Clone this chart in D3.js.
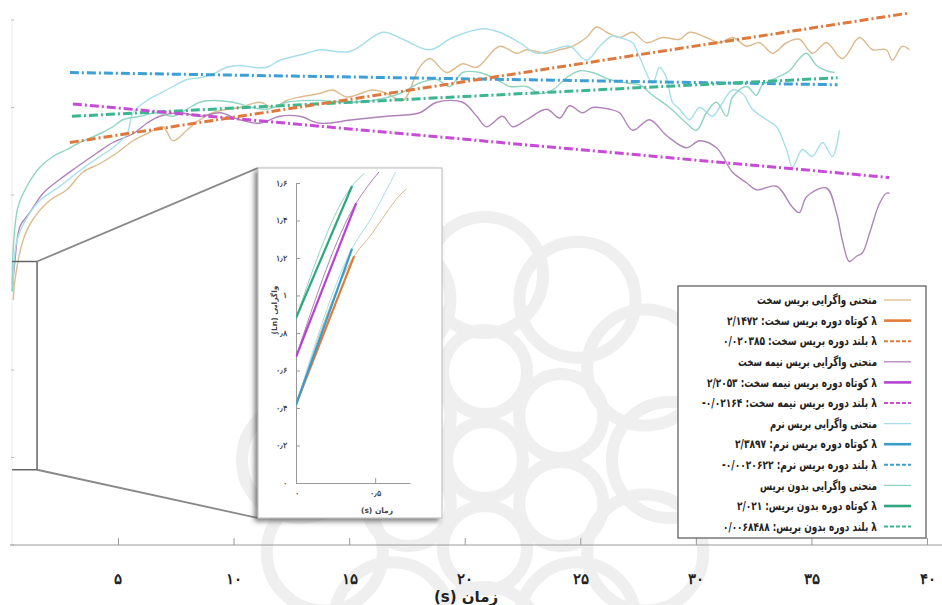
<!DOCTYPE html>
<html lang="fa">
<meta charset="utf-8">
<head>
  <title>divergence</title>
  <style>
  body { margin: 0; background: #fff; }
  svg { display: block; font-family: "DejaVu Sans", sans-serif; }
  .curve { fill: none; stroke-width: 1.4px; }
  .long { fill: none; stroke-width: 3px; stroke-dasharray: 9,3,2,3; }
  .axis-main path, .axis-main line { stroke: #9a9a9a; }
  .axis-main text { font-size: 15px; font-weight: bold; fill: #222; }
  .inset-axis path, .inset-axis line { stroke: #999; }
  .inset-axis text { font-size: 7.5px; font-weight: bold; fill: #444; }
  .legend text { font-size: 12px; font-weight: bold; fill: #222; }
  .mark { fill: none; stroke: #efefef; stroke-width: 12px; }
  </style>
</head>
<body>
<svg id="chart" width="942" height="605"></svg>
<script src="https://cdn.jsdelivr.net/npm/d3@7"></script>
<script>

// ---- data (time s, divergence Ln) ----
var hardCurve = [[0.47,1.4],[0.54,1.51],[0.89,1.74],[1.32,1.86],[2.06,1.97],[2.79,2.03],[3.48,2.13],[4.22,2.18],[4.95,2.24],[5.65,2.31],[6.25,2.35],[6.94,2.39],[7.38,2.31],[7.98,2.37],[8.54,2.43],[9.1,2.47],[9.71,2.49],[10.27,2.5],[11.14,2.53],[11.7,2.5],[12.3,2.54],[12.87,2.56],[13.73,2.58],[14.29,2.6],[14.9,2.56],[16.02,2.6],[16.63,2.58],[17.32,2.54],[18.05,2.73],[18.49,2.78],[19.22,2.7],[19.91,2.75],[20.52,2.73],[21.51,2.85],[22.25,2.81],[22.68,2.83],[23.54,2.81],[24.11,2.83],[24.67,2.85],[25.27,2.9],[25.71,2.96],[26.14,2.93],[26.7,2.9],[27.26,2.93],[27.87,2.87],[28.56,2.9],[29.3,2.89],[29.73,2.93],[30.46,2.9],[31.02,2.87],[31.59,2.9],[32.19,2.85],[32.75,2.87],[33.32,2.81],[33.92,2.87],[34.48,2.89],[35.04,2.81],[35.65,2.87],[36.34,2.78],[37.08,2.9],[37.64,2.83],[38.24,2.83],[38.5,2.77],[38.93,2.85],[39.24,2.83]];

var semiCurve = [[0.43,1.45],[0.54,1.62],[0.76,1.82],[1.19,1.9],[1.76,2.01],[2.49,2.09],[3.22,2.16],[4.09,2.24],[4.78,2.3],[5.65,2.35],[6.25,2.41],[6.81,2.45],[7.68,2.47],[8.54,2.45],[9.41,2.47],[10.27,2.43],[11.14,2.41],[12.0,2.45],[12.87,2.45],[13.73,2.41],[15.16,2.43],[16.63,2.45],[18.05,2.47],[18.79,2.53],[19.91,2.53],[20.52,2.45],[20.95,2.39],[21.64,2.45],[22.07,2.39],[22.68,2.43],[23.54,2.49],[24.11,2.44],[24.54,2.51],[25.1,2.47],[25.53,2.5],[26.27,2.49],[26.7,2.47],[27.26,2.37],[28.0,2.43],[28.73,2.34],[29.6,2.27],[30.16,2.31],[30.89,2.27],[31.59,2.13],[32.19,2.07],[32.62,2.03],[33.49,2.05],[34.18,1.93],[34.48,1.9],[34.79,1.99],[35.65,2.04],[36.08,1.9],[36.34,1.74],[36.64,1.62],[36.95,1.65],[37.21,1.67],[37.51,1.78],[37.94,1.95],[38.24,2.01],[38.37,2.01]];

var softCurve = [[0.45,1.45],[0.63,1.74],[1.06,1.87],[1.63,1.97],[2.49,2.05],[3.35,2.14],[4.22,2.22],[4.78,2.27],[5.39,2.35],[5.65,2.47],[6.25,2.54],[6.81,2.58],[7.38,2.62],[7.98,2.66],[8.54,2.67],[9.1,2.69],[9.71,2.73],[10.27,2.74],[10.83,2.73],[11.44,2.73],[12.0,2.77],[12.56,2.79],[13.17,2.81],[13.73,2.83],[15.03,2.82],[16.46,2.93],[17.32,2.89],[18.49,2.83],[19.48,2.9],[20.78,2.95],[21.51,2.93],[22.38,2.87],[23.11,2.81],[23.8,2.83],[24.54,2.85],[25.27,2.77],[25.84,2.85],[26.4,2.91],[26.7,2.9],[27.26,2.87],[27.56,2.79],[28.13,2.64],[28.43,2.73],[28.73,2.67],[28.99,2.53],[29.3,2.49],[29.73,2.43],[30.16,2.5],[30.72,2.45],[31.02,2.5],[31.59,2.6],[32.02,2.58],[32.45,2.49],[33.06,2.43],[33.49,2.39],[33.92,2.26],[34.18,2.16],[34.61,2.26],[35.04,2.22],[35.48,2.3],[35.91,2.22],[36.21,2.37]];

var noneCurve = [[0.42,1.45],[0.46,1.67],[0.67,1.93],[1.06,2.05],[1.63,2.16],[2.19,2.22],[2.79,2.26],[3.35,2.3],[4.22,2.35],[4.78,2.39],[5.21,2.43],[5.95,2.45],[6.68,2.47],[7.38,2.45],[7.98,2.49],[8.54,2.53],[9.1,2.54],[9.97,2.53],[10.83,2.5],[11.44,2.49],[12.3,2.53],[13.17,2.54],[13.73,2.54],[14.9,2.53],[16.02,2.54],[17.19,2.58],[18.05,2.64],[18.79,2.66],[19.35,2.62],[19.91,2.7],[20.65,2.7],[21.38,2.66],[21.95,2.62],[22.68,2.62],[23.24,2.58],[23.8,2.6],[24.41,2.67],[24.97,2.71],[25.53,2.7],[26.27,2.66],[27.0,2.64],[27.56,2.63],[28.13,2.57],[28.86,2.5],[29.6,2.41],[30.03,2.37],[30.46,2.47],[30.89,2.53],[31.33,2.45],[31.59,2.56],[32.19,2.62],[32.62,2.57],[32.88,2.63],[33.49,2.67],[34.05,2.71],[34.48,2.78],[34.79,2.81],[35.22,2.74],[35.65,2.71],[36.0,2.7]];

// long-period lambda fits (start, end)
var hardLong = [[2.92,2.30],[39.24,3.04]];
var semiLong = [[3.05,2.52],[38.37,2.10]];
var softLong = [[2.92,2.70],[36.13,2.63]];
var noneLong = [[3.01,2.45],[36.13,2.67]];

// zoomed region of the main plot
var zoomBox = {t0: 0.42, t1: 1.5, v0: 0.43, v1: 1.62};

// inset: short-period lambda fits and the start of each curve
var hardShort = [[0,0.42],[0.367,1.21]];
var semiShort = [[0,0.672],[0.38,1.493]];
var softShort = [[0,0.416],[0.354,1.25]];
var noneShort = [[0,0.88],[0.354,1.584]];

var hardStart = [[0,0.42],[0.367,1.21],[0.48,1.33],[0.57,1.44],[0.65,1.53],[0.70,1.57]];
var semiStart = [[0,0.672],[0.38,1.493],[0.45,1.58],[0.525,1.66]];
var softStart = [[0,0.416],[0.354,1.25],[0.48,1.42],[0.57,1.56],[0.63,1.66]];
var noneStart = [[0,0.88],[0.354,1.584],[0.43,1.65]];

var xTicks = [5, 10, 15, 20, 25, 30, 35, 40];
var yTicks = [0, 0.5, 1, 1.5, 2, 2.5, 3];
var insetYTicks = [0, 0.2, 0.4, 0.6, 0.8, 1, 1.2, 1.4, 1.6];
var insetXTicks = [0, 0.5];

var legendLabels = [
  "منحنی واگرایی بریس سخت",
  "λ کوتاه دوره بریس سخت: ۲/۱۴۷۲",
  "λ بلند دوره بریس سخت: ۰/۰۲۰۳۸۵",
  "منحنی واگرایی بریس نیمه سخت",
  "λ کوتاه دوره بریس نیمه سخت: ۲/۲۰۵۳",
  "λ بلند دوره بریس نیمه سخت: ۰/۰۲۱۶۴-",
  "منحنی واگرایی بریس نرم",
  "λ کوتاه دوره بریس نرم: ۲/۳۸۹۷",
  "λ بلند دوره بریس نرم: ۰/۰۰۲۰۶۲۲-",
  "منحنی واگرایی بدون بریس",
  "λ کوتاه دوره بدون بریس: ۲/۰۲۱",
  "λ بلند دوره بدون بریس: ۰/۰۰۶۸۴۸۸"
];
// text widths measured on the picture (px)
var legendWidths = [120, 150, 154, 139, 170, 175, 107, 142, 155, 117, 140, 154];

// ---- styles ----
var colors = {
  hard: {thin: "#dcbb8e", short: "#e07b39", long: "#dc7a3e"},
  semi: {thin: "#b083b8", short: "#b545cf", long: "#c64cd6"},
  soft: {thin: "#a6dfeb", short: "#3b9ccc", long: "#3e9fd4"},
  none: {thin: "#8fd5c2", short: "#2fa67c", long: "#3db58e"}
};
var legendKinds = ["thin", "short", "long"];
var legendGroups = ["hard", "semi", "soft", "none"];

var faDigits = "۰۱۲۳۴۵۶۷۸۹";
function fa(s) { return String(s).replace(/\d/g, function(d) { return faDigits[+d]; }); }

var svg = d3.select("#chart");

var defs = svg.append("defs");
var shadow = defs.append("filter").attr("id", "shadow")
    .attr("x", "-20%").attr("y", "-20%").attr("width", "140%").attr("height", "140%");
shadow.append("feDropShadow")
    .attr("dx", -3).attr("dy", 3).attr("stdDeviation", 2.5)
    .attr("flood-color", "#555").attr("flood-opacity", 0.75);

// faint emblem in the background (watermark)
var mark = svg.append("g").attr("transform", "translate(485,460)");
mark.append("circle").attr("class", "mark").attr("r", 38);
mark.selectAll(".inner")
    .data(d3.range(6))
  .enter().append("circle")
    .attr("class", "mark inner")
    .attr("r", 42)
    .attr("cx", function(d) { return 88 * Math.cos(d * Math.PI / 3 - Math.PI / 2); })
    .attr("cy", function(d) { return 88 * Math.sin(d * Math.PI / 3 - Math.PI / 2); });
mark.selectAll(".ring")
    .data(d3.range(12))
  .enter().append("circle")
    .attr("class", "mark ring")
    .attr("r", 58)
    .attr("cx", function(d) { return 185 * Math.cos(d * Math.PI / 6); })
    .attr("cy", function(d) { return 185 * Math.sin(d * Math.PI / 6); });

var x = d3.scaleLinear().domain([0, 40]).range([2.4, 927]),
    y = d3.scaleLinear().domain([0, 3]).range([545, 20]);

var smooth = d3.line()
    .curve(d3.curveCatmullRom.alpha(0.5))
    .x(function(d) { return x(d[0]); })
    .y(function(d) { return y(d[1]); });

var straight = d3.line()
    .x(function(d) { return x(d[0]); })
    .y(function(d) { return y(d[1]); });

// faint left axis with small ticks
var yAxisX = x(zoomBox.t0);
svg.append("line")
    .attr("x1", yAxisX).attr("x2", yAxisX)
    .attr("y1", y(3)).attr("y2", y(0))
    .attr("stroke", "#ececec");
svg.append("g").selectAll("line")
    .data(yTicks)
  .enter().append("line")
    .attr("x1", yAxisX - 1).attr("x2", yAxisX + 2)
    .attr("y1", function(d) { return y(d); })
    .attr("y2", function(d) { return y(d); })
    .attr("stroke", "#bbb");

// curves
var curves = [
  {key: "hard", values: hardCurve},
  {key: "semi", values: semiCurve},
  {key: "soft", values: softCurve},
  {key: "none", values: noneCurve}
];
svg.append("g").selectAll("path")
    .data(curves)
  .enter().append("path")
    .attr("class", "curve")
    .attr("d", function(d) { return smooth(d.values); })
    .style("stroke", function(d) { return colors[d.key].thin; });

// long period lambda lines
var longLines = [
  {key: "soft", values: softLong},
  {key: "none", values: noneLong},
  {key: "semi", values: semiLong},
  {key: "hard", values: hardLong}
];
svg.append("g").selectAll("path")
    .data(longLines)
  .enter().append("path")
    .attr("class", "long")
    .attr("d", function(d) { return straight(d.values); })
    .style("stroke", function(d) { return colors[d.key].long; });

// x axis
var xAxis = svg.append("g")
    .attr("class", "axis-main")
    .attr("transform", "translate(0," + y(0) + ")")
    .call(d3.axisBottom(x).tickValues(xTicks).tickSize(-7).tickSizeOuter(0).tickPadding(28)
        .tickFormat(function(d) { return fa(d); }));
xAxis.select(".domain").attr("d", "M10,0H942");

svg.append("text")
    .attr("x", 466).attr("y", 602)
    .attr("text-anchor", "middle")
    .style("direction", "rtl")
    .style("font-size", "15px").style("font-weight", "bold").style("fill", "#222")
    .text("زمان (s)");

// zoom box and connectors
var inset = {x: 258, y: 168, w: 184, h: 350};
var zx0 = x(zoomBox.t0), zx1 = x(zoomBox.t1), zy0 = y(zoomBox.v1), zy1 = y(zoomBox.v0);
svg.append("path")
    .attr("d", "M" + zx0 + "," + zy0 + "H" + zx1 + "V" + zy1 + "H" + zx0)
    .attr("fill", "none").attr("stroke", "#666").attr("stroke-width", 1.5);
svg.append("line")
    .attr("x1", zx1).attr("y1", zy0).attr("x2", inset.x).attr("y2", inset.y)
    .attr("stroke", "#888").attr("stroke-width", 1.8);
svg.append("line")
    .attr("x1", zx1).attr("y1", zy1).attr("x2", inset.x).attr("y2", inset.y + inset.h)
    .attr("stroke", "#888").attr("stroke-width", 1.8);

// inset
svg.append("rect")
    .attr("x", inset.x).attr("y", inset.y)
    .attr("width", inset.w).attr("height", inset.h)
    .attr("fill", "#fff").attr("stroke", "#bbb")
    .attr("filter", "url(#shadow)");

var ix = d3.scaleLinear().domain([0, 0.72]).range([296, 410]),
    iy = d3.scaleLinear().domain([0, 1.6]).range([483, 183]);

defs.append("clipPath").attr("id", "insetClip")
  .append("rect").attr("x", 296).attr("y", 172).attr("width", 144).attr("height", 312);

var iline = d3.line()
    .curve(d3.curveMonotoneX)
    .x(function(d) { return ix(d[0]); })
    .y(function(d) { return iy(d[1]); });

var fmtInset = function(d) { return fa(d3.format("")(d)).replace(".", "٫"); };

svg.append("g")
    .attr("class", "inset-axis")
    .attr("transform", "translate(296,0)")
    .call(d3.axisLeft(iy).tickValues(insetYTicks).tickSize(-4).tickSizeOuter(0).tickPadding(9)
        .tickFormat(fmtInset));
svg.append("g")
    .attr("class", "inset-axis")
    .attr("transform", "translate(0,483)")
    .call(d3.axisBottom(ix).tickValues(insetXTicks).tickSize(-5).tickSizeOuter(0).tickPadding(8)
        .tickFormat(fmtInset));

svg.append("text")
    .attr("x", 377).attr("y", 513)
    .attr("text-anchor", "middle")
    .style("direction", "rtl")
    .style("font-size", "7.5px").style("font-weight", "bold").style("fill", "#444")
    .text("زمان (s)");
svg.append("text")
    .attr("transform", "translate(277,310) rotate(-90)")
    .attr("text-anchor", "middle")
    .style("direction", "rtl")
    .style("font-size", "7.5px").style("font-weight", "bold").style("fill", "#444")
    .text("واگرایی (Ln)");

var ig = svg.append("g").attr("clip-path", "url(#insetClip)");
var insetCurves = [
  {key: "hard", values: hardStart},
  {key: "semi", values: semiStart},
  {key: "soft", values: softStart},
  {key: "none", values: noneStart}
];
ig.selectAll(".icurve")
    .data(insetCurves)
  .enter().append("path")
    .attr("class", "icurve")
    .attr("fill", "none").attr("stroke-width", 1)
    .attr("d", function(d) { return iline(d.values); })
    .style("stroke", function(d) { return colors[d.key].thin; });

var shortLines = [
  {key: "hard", values: hardShort},
  {key: "soft", values: softShort},
  {key: "semi", values: semiShort},
  {key: "none", values: noneShort}
];
ig.selectAll(".ishort")
    .data(shortLines)
  .enter().append("path")
    .attr("class", "ishort")
    .attr("fill", "none").attr("stroke-width", 2.2)
    .attr("d", function(d) { return iline(d.values); })
    .style("stroke", function(d) { return colors[d.key].short; });

// legend
var lg = svg.append("g").attr("class", "legend");
lg.append("rect")
    .attr("x", 678).attr("y", 286).attr("width", 248).attr("height", 252)
    .attr("fill", "#fff").attr("stroke", "#555").attr("stroke-width", 1.2);

var rows = lg.selectAll(".row")
    .data(legendLabels)
  .enter().append("g")
    .attr("class", "row")
    .attr("transform", function(d, i) { return "translate(0," + (300 + i * 20.6) + ")"; });

rows.append("line")
    .attr("x1", 884).attr("x2", 911)
    .attr("stroke", function(d, i) { return colors[legendGroups[Math.floor(i / 3)]][legendKinds[i % 3]]; })
    .attr("stroke-width", function(d, i) { return [1.3, 2.6, 2][i % 3]; })
    .attr("stroke-dasharray", function(d, i) { return i % 3 === 2 ? "4,2" : null; });

rows.append("text")
    .attr("x", 877).attr("dy", "0.35em")
    .attr("text-anchor", "start")
    .style("direction", "rtl")
    .attr("textLength", function(d, i) { return legendWidths[i]; })
    .attr("lengthAdjust", "spacingAndGlyphs")
    .text(function(d) { return d; });

</script>
</body>
</html>
